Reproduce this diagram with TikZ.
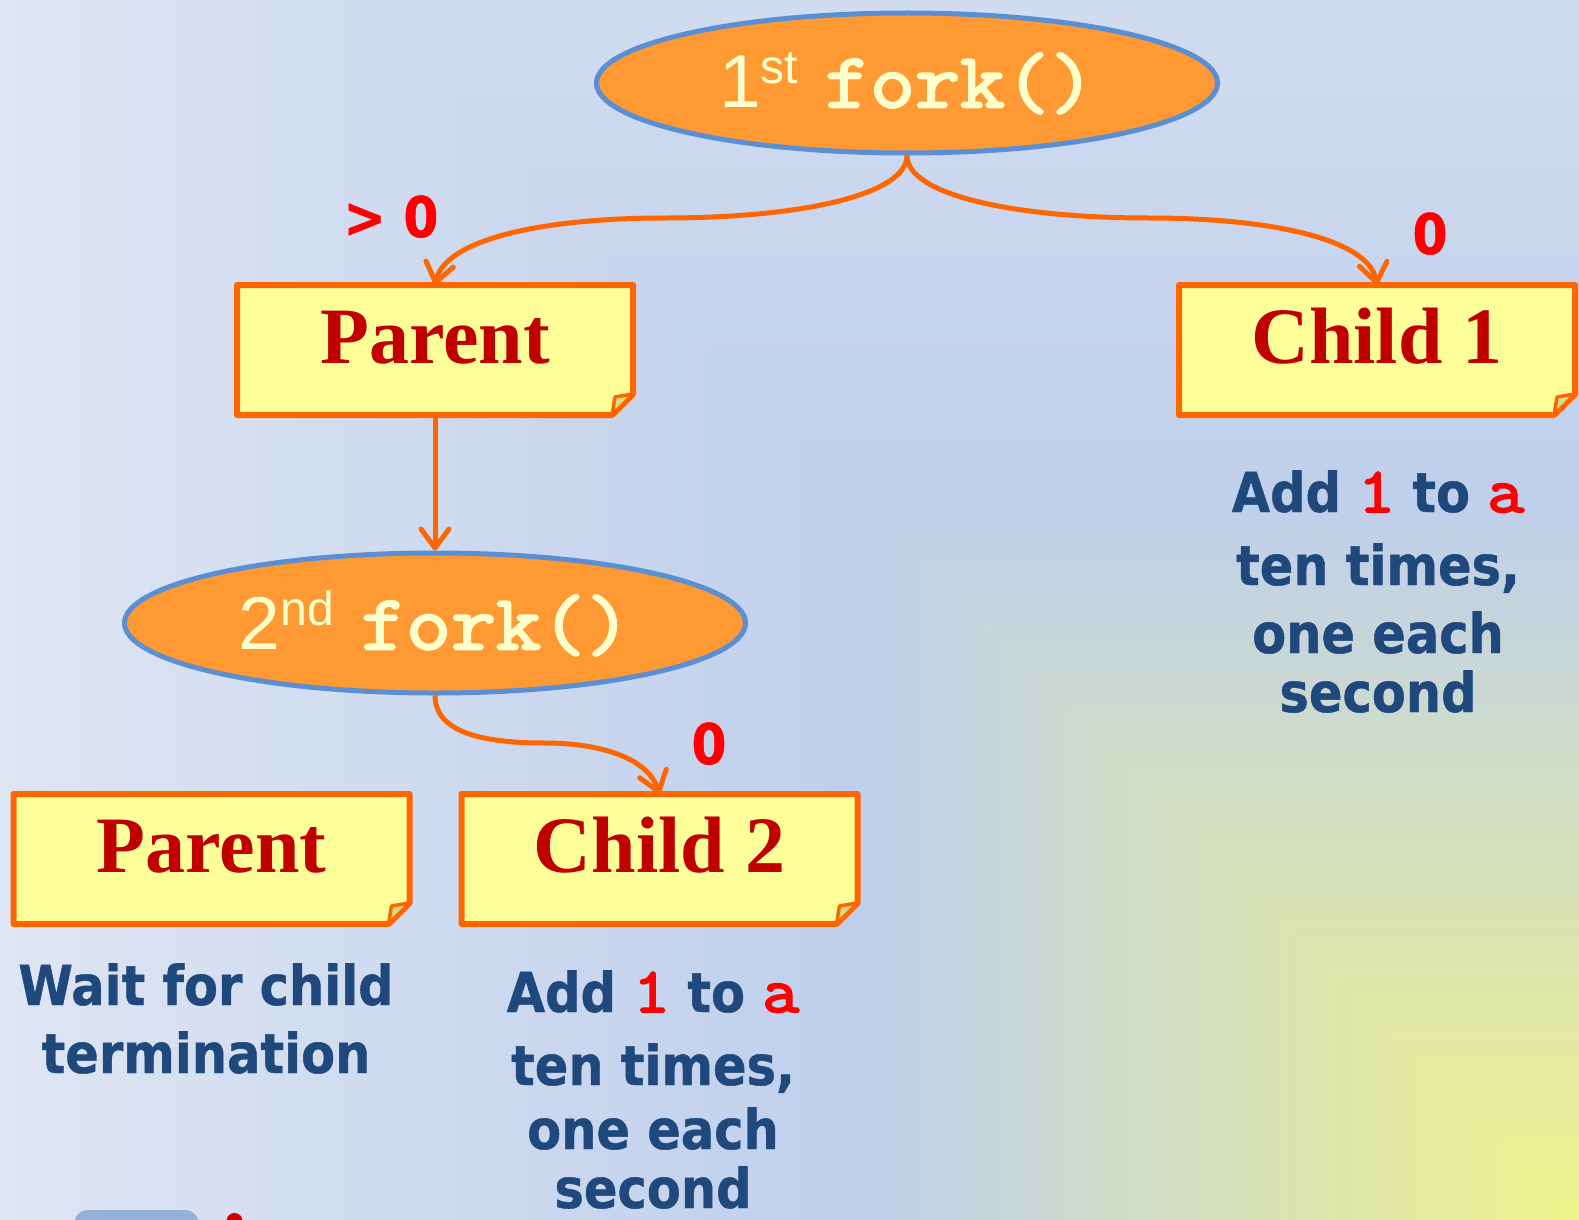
\documentclass[tikz,border=0pt]{standalone}
\usepackage{fontspec}
\setmainfont{Liberation Serif}
\newfontfamily\tahoma[FakeStretch=0.9,FakeBold=0.8]{DejaVu Sans}
\newfontfamily\cour[FakeBold=3,FakeStretch=1.12]{Latin Modern Mono}
\newfontfamily\arialf{Liberation Sans}
\usetikzlibrary{arrows.meta,shapes.geometric}

\definecolor{bgY}{HTML}{EEF38A}
\definecolor{bgB}{HTML}{BFCFEC}
\definecolor{bgL}{HTML}{DEE5F3}
\definecolor{ovalfill}{HTML}{FF9933}
\definecolor{ovalline}{HTML}{5B8FD4}
\definecolor{boxfill}{HTML}{FFFF99}
\definecolor{orangeline}{HTML}{FF6600}
\definecolor{boxtext}{HTML}{C00000}
\definecolor{navy}{HTML}{1F497D}
\definecolor{cream}{HTML}{FFFFCC}
\definecolor{foldfill}{HTML}{D6DC8C}
\definecolor{tabblue}{HTML}{95B1D7}
\definecolor{dotred}{HTML}{CC0000}

\newcommand\redcode[1]{{\cour\fontsize{64}{64}\selectfont\color{red}#1}}
\newcommand\forklabel[2]{{\arialf #1\raisebox{24pt}{\fontsize{48}{48}\selectfont #2}}\hspace{27pt}{\cour\fontsize{78}{78}\selectfont fork()}}

\pgfdeclarelayer{paper}
\pgfdeclarelayer{cards}
\pgfsetlayers{paper,cards,main}

\tikzset{
  oval/.style={ellipse, fill=ovalfill, draw=ovalline, line width=5pt,
    minimum width=621pt, minimum height=140pt, inner sep=0pt, text=cream,
    font=\fontsize{75}{75}\selectfont},
  card/.style={rectangle, minimum width=396pt, minimum height=130pt,
    inner sep=0pt, outer sep=0pt, text=boxtext,
    font=\fontsize{80}{80}\selectfont\bfseries, text height=56pt, text depth=30pt},
  cardline/.style={draw=orangeline, fill=boxfill, line width=6pt, line join=round},
  foldline/.style={draw=orangeline, fill=foldfill, line width=3.5pt, line join=round},
  link/.style={draw=orangeline, line width=5pt,
    -{Straight Barb[length=19pt,width=28pt,round]}},
  note/.style={text=navy, font=\tahoma\bfseries\fontsize{55}{55}\selectfont,
    anchor=base, inner sep=0pt},
  branch/.style={text=red, font=\tahoma\bfseries\fontsize{56}{56}\selectfont,
    anchor=base, inner sep=0pt},
}

\begin{document}
\begin{tikzpicture}[x=1pt,y=-1pt]
\useasboundingbox (0,0) rectangle (1579,1220);

% backdrop: square bands fading from yellow in the lower right corner
\begin{pgfonlayer}{paper}
  \begin{scope}
    \clip (0,0) rectangle (1579,1220);
    \foreach \d in {1600,1590,...,10}{
      \ifnum\d>720
        \pgfmathsetmacro\pc{min(100,(\d-720)/8.6)}
        \colorlet{bandc}{bgL!\pc!bgB}
      \else
        \pgfmathsetmacro\pc{\d/7.2}
        \colorlet{bandc}{bgB!\pc!bgY}
      \fi
      \fill[bandc] ({1579-\d},{1220-\d}) rectangle (1579,1220);
    }
  \end{scope}
\end{pgfonlayer}

% fork calls
\node[oval] (e1) at (907,83) {\forklabel{1}{st}};
\node[oval] (e2) at (435,623) {\forklabel{2}{nd}};

% process cards
\node[card] (p1) at (435,350) {Parent};
\node[card] (c1) at (1377,350) {Child 1};
\node[card] (p2) at (211.5,859) {Parent};
\node[card] (c2) at (659.5,859) {Child 2};

\begin{pgfonlayer}{cards}
  \foreach \n in {p1,c1,p2,c2}{
    \path[cardline] (\n.north west) -- (\n.north east)
      -- ([yshift=21pt]\n.south east) -- ([xshift=-21pt]\n.south east)
      -- (\n.south west) -- cycle;
  }
\end{pgfonlayer}
\foreach \n in {p1,c1,p2,c2}{
  \path[foldline] ([yshift=21pt]\n.south east)
    -- ([xshift=-18pt,yshift=18pt]\n.south east)
    -- ([xshift=-21pt]\n.south east) -- cycle;
}

% return-value branches
\draw[link] (e1.south) .. controls (907,195) and (800,218) .. (665,218)
  .. controls (540,218) and (445,240) .. (p1.north);
\draw[link] (e1.south) .. controls (907,195) and (1014,218) .. (1149,218)
  .. controls (1274,218) and (1369,240) .. (c1.north);
\draw[link] (p1.south) -- (e2.north);
\draw[link] (e2.south) .. controls (435,735) and (490,743) .. (545,743)
  .. controls (600,743) and (648,758) .. (c2.north);

\node[branch] (gt) at (391,237) {> 0};
\node[branch] (z1) at (1430,254) {0};
\node[branch] (z2) at (709,764) {0};

% what each process does
\node[note] (c1a) at (1378,512) {Add \redcode{1} to \redcode{a}};
\node[note] (c1b) at (1378,585) {ten times,};
\node[note] (c1c) at (1378,653) {one each};
\node[note] (c1d) at (1378,712) {second};

\node[note] (p2a) at (206,1005) {Wait for child};
\node[note] (p2b) at (206,1073) {termination};

\node[note] (c2a) at (653,1012) {Add \redcode{1} to \redcode{a}};
\node[note] (c2b) at (653,1085) {ten times,};
\node[note] (c2c) at (653,1149) {one each};
\node[note] (c2d) at (653,1208) {second};

% items running off the lower edge
\begin{scope}
  \clip (0,0) rectangle (1579,1220);
  \fill[tabblue, rounded corners=14pt] (74,1210) rectangle (199,1260);
  \fill[dotred] (234.5,1221) circle (8);
\end{scope}
\end{tikzpicture}
\end{document}
